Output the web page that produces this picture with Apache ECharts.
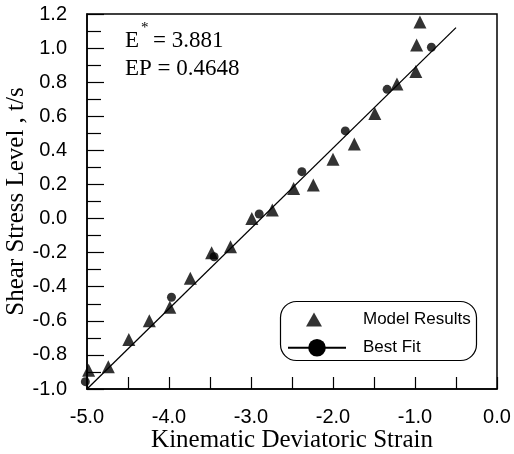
<!DOCTYPE html>
<html>
<head>
<meta charset="utf-8">
<script src="https://cdn.jsdelivr.net/npm/echarts@6/dist/echarts.min.js"></script>
<style>
  html, body { margin: 0; padding: 0; background: #fff; }
  #chart { width: 514px; height: 454px; }
</style>
</head>
<body>
<div id="chart"></div>
<script>
// model results (triangles)
var modelX = [-4.98, -4.74, -4.49, -4.24, -3.99, -3.74, -3.48, -3.25, -2.99, -2.74,
              -2.48, -2.24, -2.00, -1.74, -1.49, -1.22, -0.99, -0.98, -0.94];
var modelY = [-0.89, -0.87, -0.71, -0.60, -0.52, -0.35, -0.20, -0.165, 0.00, 0.05,
              0.177, 0.197, 0.348, 0.437, 0.617, 0.789, 0.862, 1.018, 1.153];

// best fit points (circles)
var fitX = [-5.02, -3.97, -3.45, -2.90, -2.38, -1.85, -1.34, -0.80];
var fitY = [-0.957, -0.462, -0.224, 0.027, 0.275, 0.514, 0.758, 1.005];

// best fit line ends
var lineX = [-5.0, -0.5];
var lineY = [-1.0, 1.12];

function pairs(xs, ys) {
    return xs.map(function (x, i) { return [x, ys[i]]; });
}

var myChart = echarts.init(document.getElementById("chart"));
var serif = "Liberation Serif";
var sans = "Liberation Sans";

var option = {
    animation: false,
    backgroundColor: "#fff",
    grid: {
        left: 87, right: 17, top: 14, bottom: 65,
        containLabel: false, outerBoundsMode: "none",
        show: true, borderColor: "#000", borderWidth: 1.5
    },
    xAxis: {
        type: "value", min: -5, max: 0, interval: 0.5,
        name: "Kinematic Deviatoric Strain",
        nameLocation: "middle", nameGap: 39, nameMoveOverlap: false,
        nameTextStyle: { fontFamily: serif, fontSize: 25, color: "#000" },
        axisLine: { onZero: false, lineStyle: { color: "#000", width: 1.5 } },
        axisTick: { inside: true, length: 12, lineStyle: { color: "#000", width: 1.2 } },
        axisLabel: {
            margin: 18, fontFamily: sans, fontSize: 20, color: "#000",
            formatter: function (v) {
                return Math.abs(v % 1) < 1e-6 ? v.toFixed(1) : "";
            }
        },
        splitLine: { show: false }
    },
    yAxis: {
        type: "value", min: -1.0, max: 1.2, interval: 0.2,
        name: "Shear Stress Level , t/s",
        nameLocation: "middle", nameGap: 58, nameMoveOverlap: false,
        nameTextStyle: { fontFamily: serif, fontSize: 25, color: "#000" },
        axisLine: { onZero: false, lineStyle: { color: "#000", width: 1.5 } },
        axisTick: { inside: true, length: 17, lineStyle: { color: "#000", width: 1.2 } },
        minorTick: { show: true, splitNumber: 2, length: 14, lineStyle: { color: "#000", width: 1.2 } },
        axisLabel: {
            margin: 20, fontFamily: sans, fontSize: 20, color: "#000",
            formatter: function (v) { return v.toFixed(1); }
        },
        splitLine: { show: false }
    },
    legend: [
        {
            data: ["Model Results"],
            left: 301, top: 306,
            itemWidth: 16, itemHeight: 14, itemGap: 0,
            textStyle: { fontFamily: sans, fontSize: 17, color: "#000", padding: [0, 0, 0, 36] }
        },
        {
            data: ["Best Fit"],
            left: 282, top: 334,
            itemWidth: 58, itemHeight: 22, itemGap: 0,
            textStyle: { fontFamily: sans, fontSize: 17, color: "#000", padding: [0, 0, 0, 12] }
        }
    ],
    graphic: [
        {
            type: "rect", left: 278, top: 299, silent: true,
            shape: { width: 196, height: 59, r: 16 },
            style: { fill: "none", stroke: "#000", lineWidth: 1.2 }
        },
        {
            type: "text", left: 125, top: 29,
            style: { text: "E", fontFamily: serif, fontSize: 23, fill: "#000" }
        },
        {
            type: "text", left: 141, top: 21,
            style: { text: "*", fontFamily: serif, fontSize: 15, fill: "#000" }
        },
        {
            type: "text", left: 153, top: 29,
            style: { text: "= 3.881", fontFamily: serif, fontSize: 23, fill: "#000" }
        },
        {
            type: "text", left: 125, top: 57,
            style: { text: "EP = 0.4648", fontFamily: serif, fontSize: 23, fill: "#000" }
        }
    ],
    series: [
        {
            name: "Model Results",
            type: "scatter",
            symbol: "triangle",
            symbolSize: 13,
            clip: false,
            itemStyle: { color: "#000" },
            data: pairs(modelX, modelY)
        },
        {
            name: "Best Fit",
            type: "line",
            symbol: "circle",
            showSymbol: false,
            clip: false,
            lineStyle: { color: "#000", width: 1.3 },
            itemStyle: { color: "#000" },
            data: pairs(lineX, lineY)
        },
        {
            name: "Best Fit",
            type: "scatter",
            symbol: "circle",
            symbolSize: 9,
            clip: false,
            itemStyle: { color: "#000" },
            data: pairs(fitX, fitY)
        }
    ]
};

myChart.setOption(option);
</script>
</body>
</html>
